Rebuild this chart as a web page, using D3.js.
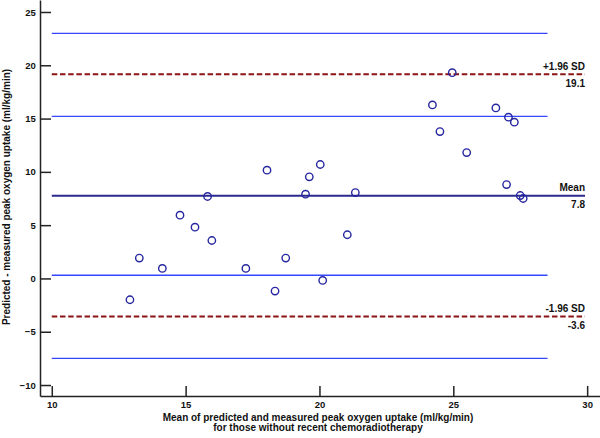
<!DOCTYPE html>
<html>
<head>
<meta charset="utf-8">
<script src="https://cdn.jsdelivr.net/npm/d3@7"></script>
<style>
  html, body { margin: 0; padding: 0; background: #fff; }
  svg { display: block; font-family: "Liberation Sans", Arial, sans-serif; }
</style>
</head>
<body>
<svg id="chart" width="600" height="438"></svg>
<script>
// Mean of predicted and measured peak VO2 (x) and difference (y)
const meanValues = [12.92, 13.27, 14.13, 14.79, 15.35, 15.82, 15.98, 17.25, 18.04, 18.34,
                    18.74, 19.48, 19.62, 20.03, 20.12, 21.04, 21.34, 24.22, 24.50, 24.96,
                    25.50, 26.59, 26.99, 27.06, 27.28, 27.50, 27.61];
const diffValues = [-2.0, 1.91, 0.94, 5.94, 4.81, 7.69, 3.56, 0.94, 10.16, -1.19,
                    1.91, 7.91, 9.53, 10.69, -0.19, 4.1, 8.06, 16.28, 13.78, 19.31,
                    11.81, 16.0, 8.81, 15.13, 14.66, 7.78, 7.5];

// Limits of agreement and mean difference
const limitValues = [19.15, 7.75, -3.56];
const limitTopLabels = ["+1.96 SD", "Mean", "-1.96 SD"];
const limitBottomLabels = ["19.1", "7.8", "-3.6"];
const limitKinds = ["loa", "mean", "loa"];

// Confidence interval lines
const ciValues = [23.0, 15.2, 0.3, -7.5];

const xTicks = [10, 15, 20, 25, 30];
const yTicks = [-10, -5, 0, 5, 10, 15, 20, 25];

const xTitle1 = "Mean of predicted and measured peak oxygen uptake (ml/kg/min)";
const xTitle2 = "for those without recent chemoradiotherapy";
const yTitle = "Predicted - measured peak oxygen uptake (ml/kg/min)";

const svg = d3.select("#chart");

const x = d3.scaleLinear().domain([9.56, 30.48]).range([40, 600]);
const y = d3.scaleLinear().domain([-11.03, 26.125]).range([396, 0]);

const lineStart = 10;
const ciEnd = 28.52;
const limitEnd = 29.92;

// CI lines
svg.append("g").selectAll("line").data(ciValues).join("line")
  .attr("x1", x(lineStart)).attr("x2", x(ciEnd))
  .attr("y1", d => y(d)).attr("y2", d => y(d))
  .attr("stroke", "#3446ff").attr("stroke-width", 1.3);

// Limit lines
const lim = limitValues.map((v, i) => ({v, top: limitTopLabels[i], bottom: limitBottomLabels[i], kind: limitKinds[i]}));
svg.append("g").selectAll("line").data(lim).join("line")
  .attr("x1", x(lineStart)).attr("x2", x(limitEnd))
  .attr("y1", d => y(d.v)).attr("y2", d => y(d.v))
  .attr("stroke", d => d.kind === "mean" ? "#2a2a8e" : "#8b1414")
  .attr("stroke-width", 2)
  .attr("stroke-dasharray", d => d.kind === "mean" ? null : "5.5,2.7");

const labG = svg.append("g").attr("font-size", 10).attr("font-weight", "bold").attr("fill", "#111").attr("text-anchor", "end");
labG.selectAll("text.top").data(lim).join("text").attr("class", "top")
  .attr("x", x(limitEnd)).attr("y", d => y(d.v) - 4.5).text(d => d.top);
labG.selectAll("text.bot").data(lim).join("text").attr("class", "bot")
  .attr("x", x(limitEnd)).attr("y", d => y(d.v) + 12.5).text(d => d.bottom);

// Points
const pts = meanValues.map((m, i) => ({m, d: diffValues[i]}));
svg.append("g").selectAll("circle").data(pts).join("circle")
  .attr("cx", d => x(d.m)).attr("cy", d => y(d.d)).attr("r", 3.7)
  .attr("fill", "none").attr("stroke", "#2626a0").attr("stroke-width", 1.4);

// Axes
const xAxis = d3.axisBottom(x).tickValues(xTicks).tickSize(-10).tickPadding(4).tickSizeOuter(0);
const gx = svg.append("g").attr("transform", "translate(0,396)").call(xAxis);
const yAxis = d3.axisLeft(y).tickValues(yTicks).tickSize(-11).tickPadding(4.3).tickSizeOuter(0);
const gy = svg.append("g").attr("transform", "translate(40,0)").call(yAxis);

[gx, gy].forEach(g => {
  g.select(".domain").attr("stroke", "#222").attr("stroke-width", 1.5);
  g.selectAll(".tick line").attr("stroke", "#222").attr("stroke-width", 1.5);
  g.selectAll(".tick text").attr("fill", "#111").attr("font-size", 9.5).attr("font-weight", "bold")
    .attr("font-family", "Liberation Sans, Arial, sans-serif");
});
gx.selectAll(".tick text").attr("dy", null).attr("y", 12);

// Titles
const tG = svg.append("g").attr("font-size", 10).attr("font-weight", "bold").attr("fill", "#111").attr("text-anchor", "middle");
tG.append("text").attr("x", 318).attr("y", 420.5).text(xTitle1);
tG.append("text").attr("x", 318).attr("y", 431).text(xTitle2);
tG.append("text").attr("transform", "translate(9.5,197) rotate(-90)").text(yTitle);
</script>
</body>
</html>
